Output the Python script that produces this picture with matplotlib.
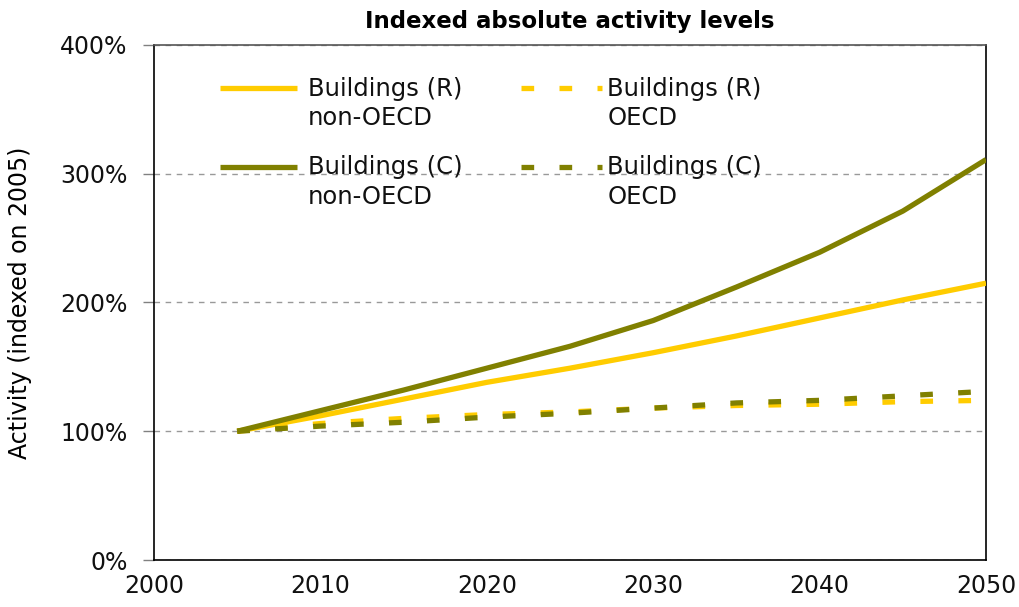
import numpy as np
import matplotlib.pyplot as plt
from matplotlib.ticker import FuncFormatter

# Values (percent, indexed on 2005)
years = [2005, 2010, 2015, 2020, 2025, 2030, 2035, 2040, 2045, 2050]
res_non_oecd = [100, 112, 125, 138, 149, 161, 174, 188, 202, 215]
res_oecd = [100, 106, 110, 113, 115, 118, 120, 121, 123, 124]
com_non_oecd = [100, 116, 132, 149, 166, 186, 212, 239, 271, 311]
com_oecd = [100, 104, 107, 111, 114, 118, 122, 124, 127.5, 131]

labels = ['Buildings (R)\nnon-OECD', 'Buildings (R)\nOECD',
          'Buildings (C)\nnon-OECD', 'Buildings (C)\nOECD']

yellow = '#FFCC00'
olive = '#808000'

plt.rcParams['font.family'] = ['DejaVu Sans']

fig = plt.figure(figsize=(10.2, 6.07), dpi=100)
ax = fig.add_axes([0.151, 0.0774, 0.8157, 0.8485])

lw = 3.8
dash = (2.4, 4.8)
styles = [
    (res_non_oecd, yellow, None, 3),
    (res_oecd, yellow, dash, 3),
    (com_non_oecd, olive, None, 4),
    (com_oecd, olive, dash, 4),
]
for vals, col, ds, z in styles:
    if ds is None:
        ax.plot(years, vals, color=col, lw=lw, solid_capstyle='butt', zorder=z)
    else:
        ax.plot(years, vals, color=col, lw=lw, dashes=ds,
                dash_capstyle='butt', zorder=z)

ax.set_xlim(2000, 2050)
ax.set_ylim(0, 400)
ax.set_xticks(range(2000, 2051, 10))
ax.set_yticks(range(0, 401, 100))
ax.yaxis.set_major_formatter(FuncFormatter(lambda v, p: f'{v:.0f}%'))
ax.tick_params(axis='x', length=0, pad=10, labelsize=17)
ax.tick_params(axis='y', length=8, width=1, color='#808080', pad=11, labelsize=17)
for lab in ax.get_xticklabels() + ax.get_yticklabels():
    lab.set_color('#111111')

ax.grid(axis='y', color='#999999', ls=(0, (4, 4)), lw=1)
for side in ['left', 'bottom', 'right']:
    ax.spines[side].set_color('black')
    ax.spines[side].set_linewidth(1.2)
ax.spines['top'].set_color('#555555')
ax.spines['top'].set_linewidth(1.2)

ax.set_ylabel('Activity (indexed on 2005)', fontsize=17, labelpad=20)
ax.set_title('Indexed absolute activity levels', fontsize=16.5,
             fontweight='bold', pad=12)

# hand-built legend: 2 rows x 2 columns, handle level with first text line
handle_x = [(0.0793, 0.172), (0.441, 0.538)]
text_x = [0.185, 0.545]
row_y = [0.9165, 0.764]
for i, (vals, col, ds, z) in enumerate(styles):
    r, c = i // 2, i % 2
    x0, x1 = handle_x[c]
    y = row_y[r]
    kw = dict(color=col, lw=lw, transform=ax.transAxes, clip_on=False)
    if ds is None:
        ax.plot([x0, x1], [y, y], solid_capstyle='butt', **kw)
    else:
        ax.plot([x0, x1], [y, y], dashes=ds, dash_capstyle='butt', **kw)
    ax.text(text_x[c], y + 0.022, labels[i], transform=ax.transAxes,
            fontsize=17.5, va='top', ha='left', color='#111111',
            linespacing=1.28)

fig.savefig('out.png', dpi=100)
